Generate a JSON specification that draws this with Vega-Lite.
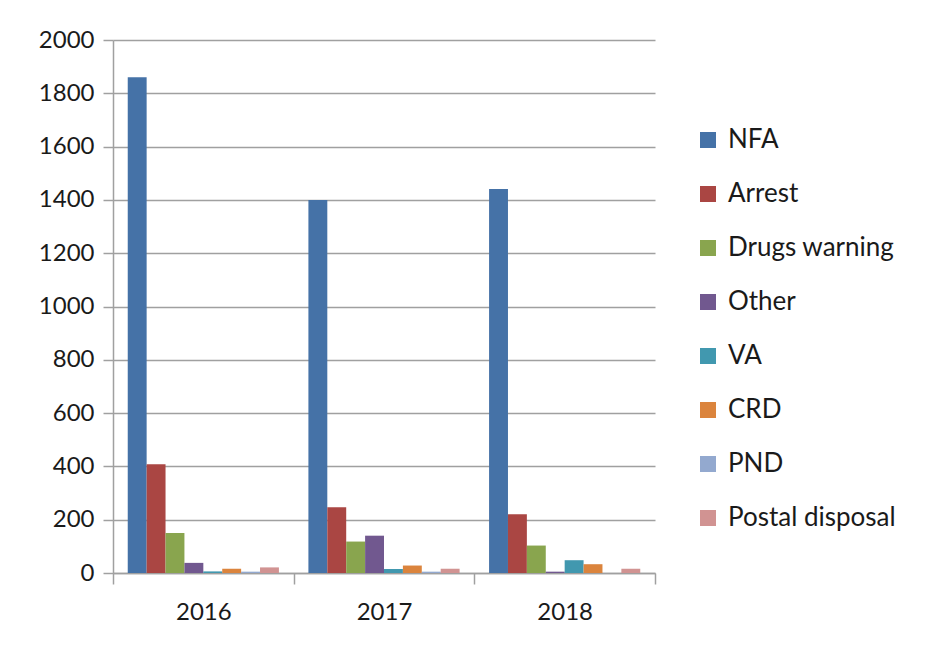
{
  "$schema": "https://vega.github.io/schema/vega-lite/v6.json",
  "autosize": "none",
  "width": 542,
  "height": 533,
  "padding": {"left": 113, "top": 40, "right": 278, "bottom": 76},
  "background": "white",
  "config": {
    "font": "Lato",
    "view": {"stroke": null}
  },
  "data": {
    "values": [
      {"year": "2016", "category": "NFA", "value": 1860},
      {"year": "2016", "category": "Arrest", "value": 408},
      {"year": "2016", "category": "Drugs warning", "value": 150},
      {"year": "2016", "category": "Other", "value": 38},
      {"year": "2016", "category": "VA", "value": 6},
      {"year": "2016", "category": "CRD", "value": 16},
      {"year": "2016", "category": "PND", "value": 5},
      {"year": "2016", "category": "Postal disposal", "value": 21},
      {"year": "2017", "category": "NFA", "value": 1400},
      {"year": "2017", "category": "Arrest", "value": 247},
      {"year": "2017", "category": "Drugs warning", "value": 118},
      {"year": "2017", "category": "Other", "value": 140},
      {"year": "2017", "category": "VA", "value": 15},
      {"year": "2017", "category": "CRD", "value": 28},
      {"year": "2017", "category": "PND", "value": 5},
      {"year": "2017", "category": "Postal disposal", "value": 16},
      {"year": "2018", "category": "NFA", "value": 1441},
      {"year": "2018", "category": "Arrest", "value": 220},
      {"year": "2018", "category": "Drugs warning", "value": 103},
      {"year": "2018", "category": "Other", "value": 5},
      {"year": "2018", "category": "VA", "value": 48},
      {"year": "2018", "category": "CRD", "value": 33},
      {"year": "2018", "category": "PND", "value": 0},
      {"year": "2018", "category": "Postal disposal", "value": 16}
    ]
  },
  "mark": {"type": "bar"},
  "encoding": {
    "x": {
      "field": "year",
      "type": "nominal",
      "scale": {"paddingInner": 0, "paddingOuter": 0},
      "axis": {
        "title": null,
        "labelAngle": 0,
        "labelFontSize": 24,
        "labelColor": "#1a1a1a",
        "labelPadding": 16,
        "tickBand": "extent",
        "tickSize": 11,
        "tickColor": "#a0a0a0",
        "tickWidth": 1.5,
        "domainColor": "#a0a0a0",
        "domainWidth": 1.5
      }
    },
    "xOffset": {
      "field": "category",
      "type": "nominal",
      "sort": ["NFA", "Arrest", "Drugs warning", "Other", "VA", "CRD", "PND", "Postal disposal"],
      "scale": {"paddingInner": 0, "paddingOuter": 0.78}
    },
    "y": {
      "field": "value",
      "type": "quantitative",
      "scale": {"domain": [0, 2000], "nice": false},
      "axis": {
        "title": null,
        "format": "d",
        "values": [0, 200, 400, 600, 800, 1000, 1200, 1400, 1600, 1800, 2000],
        "labelFontSize": 24,
        "labelColor": "#1a1a1a",
        "labelPadding": 9,
        "tickSize": 10,
        "tickColor": "#a0a0a0",
        "tickWidth": 1.5,
        "domainColor": "#a0a0a0",
        "domainWidth": 1.5,
        "gridColor": "#a0a0a0",
        "gridWidth": 1.5
      }
    },
    "color": {
      "field": "category",
      "type": "nominal",
      "scale": {
        "domain": ["NFA", "Arrest", "Drugs warning", "Other", "VA", "CRD", "PND", "Postal disposal"],
        "range": ["#4572A7", "#AA4643", "#89A54E", "#71588F", "#4198AF", "#DB843D", "#93A9CF", "#D19392"]
      },
      "legend": {
        "title": null,
        "orient": "none",
        "legendX": 582,
        "legendY": 87,
        "symbolType": "square",
        "symbolSize": 256,
        "symbolStrokeWidth": 0,
        "labelFontSize": 26,
        "labelLimit": 400,
        "labelColor": "#1a1a1a",
        "labelOffset": 7,
        "rowPadding": 28
      }
    }
  }
}
